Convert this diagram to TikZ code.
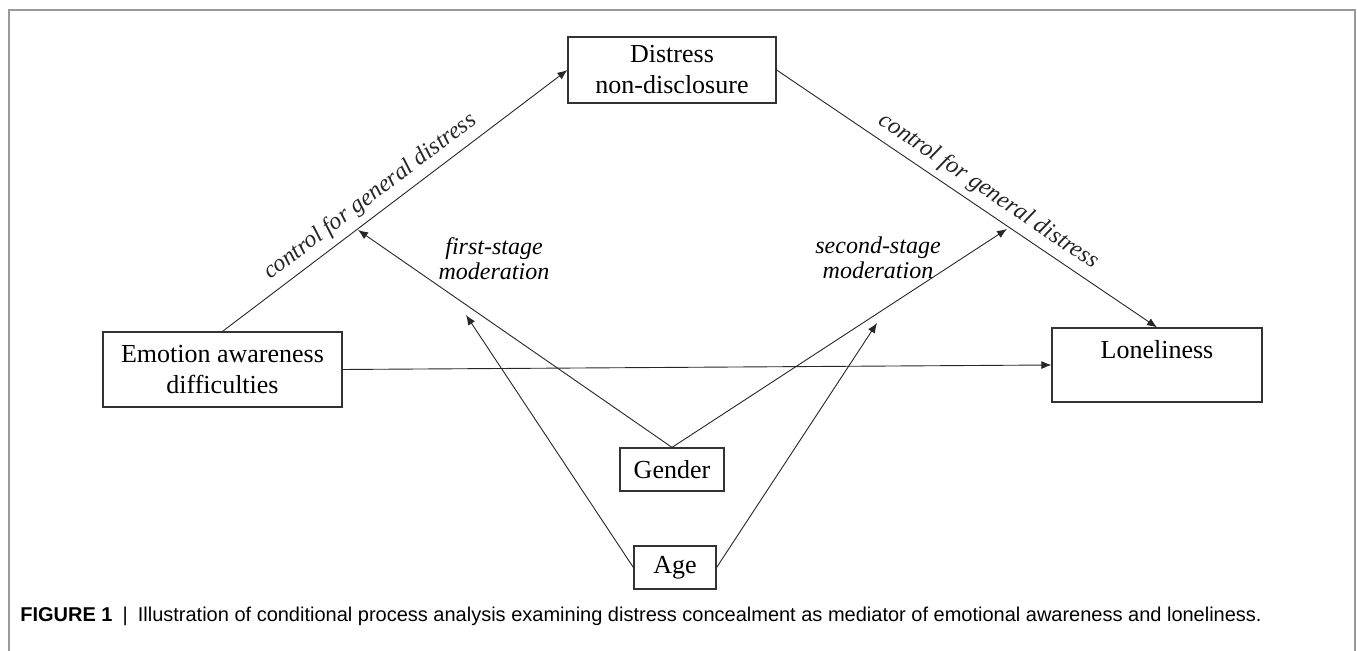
\documentclass[tikz,border=0pt]{standalone}
\usepackage{fontspec}
\setmainfont{Liberation Serif}
\setsansfont{Liberation Sans}
\usetikzlibrary{arrows.meta}

\begin{document}
\begin{tikzpicture}
[x=0.5pt,y=-0.5pt,
  boxdecorate/.style={shape=rectangle,inner sep=0pt,draw=black!80,line width=0.6pt,%
    align=center,font=\fontsize{13}{15.5}\selectfont},%
  labeldecorate/.style={align=center,font=\fontsize{12}{12.5}\selectfont\itshape},%
  linedecorate/.style={-{Latex[length=5pt,width=4pt]},line width=0.45pt,black!85},%
  framedecorate/.style={draw=black!40,line width=0.8pt}]
\useasboundingbox (0,0) rectangle (1357,651);
%% frame
\draw[framedecorate] (9,651) -- (9,10) -- (1355,10) -- (1355,651);
%% nodes or vertices
\foreach \nodename/\x/\y/\w/\h/\txt in {emotion/222.5/369.5/239/75/{Emotion awareness\\difficulties},
  distress/672/70/208/66/{Distress\\non-disclosure}, lonely/1157/365/210/74/{Loneliness\\\mbox{}},
  gender/672/469.5/104/43/Gender, age/675/567.5/82/43/Age}
{
  \node (\nodename) at (\x,\y) [boxdecorate,minimum width=\w*0.5pt,minimum height=\h*0.5pt] {\txt};
}
%% end points of the moderation arrows
\foreach \pointname/\x/\y in {fs/358/230, ss/1007/229, fa/466/315, sa/877/323}
{
  \coordinate (\pointname) at (\x,\y);
}
%% labels
\node (firstlabel) at (494,259) [labeldecorate] {first-stage\\moderation};
\node (secondlabel) at (878,258) [labeldecorate] {second-stage\\moderation};
%% edges or lines
\path (emotion.north) edge[linedecorate] node[pos=0.46,sloped,above,labeldecorate] {control for general distress} (distress.west);
\path (distress.east) edge[linedecorate] node[pos=0.53,sloped,above,labeldecorate] {control for general distress} (lonely.north);
\path
\foreach \startnode/\endnode in {emotion.east/lonely.west, gender.north/fs, gender.north/ss,
  age.west/fa, age.east/sa} {
  (\startnode) edge[linedecorate] (\endnode)
};
%% caption
\node (caption) at (20,622) [anchor=base west,inner sep=0pt,font=\sffamily\fontsize{10}{12}\selectfont]
  {\textbf{FIGURE 1}\enspace|\enspace Illustration of conditional process analysis examining distress concealment as mediator of emotional awareness and loneliness.};
\end{tikzpicture}
\end{document}
